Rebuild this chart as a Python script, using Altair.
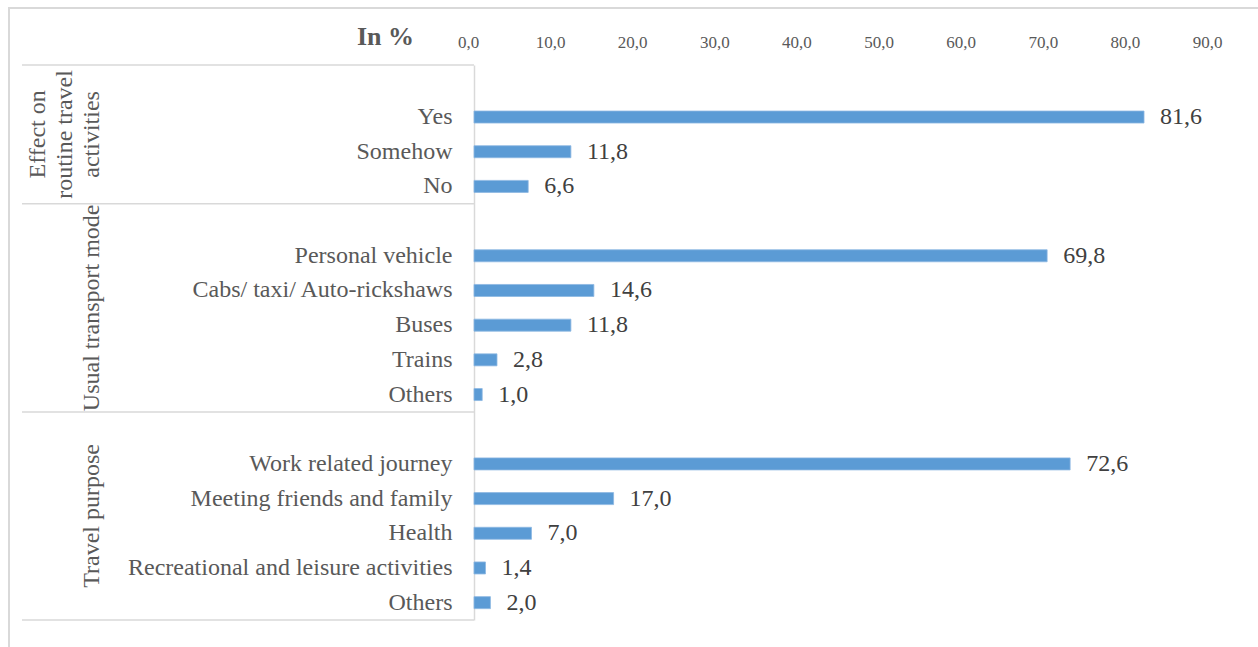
import altair as alt
import pandas as pd

# ---- data ----
group_names = ["Effect on\nroutine travel\nactivities", "Usual transport mode", "Travel purpose"]
group_ids = ["effect", "mode", "purpose"]
categories = [
    ["Yes", "Somehow", "No"],
    ["Personal vehicle", "Cabs/ taxi/ Auto-rickshaws", "Buses", "Trains", "Others"],
    ["Work related journey", "Meeting friends and family", "Health",
     "Recreational and leisure activities", "Others"],
]
values = [
    [81.6, 11.8, 6.6],
    [69.8, 14.6, 11.8, 2.8, 1.0],
    [72.6, 17.0, 7.0, 1.4, 2.0],
]
tick_values = [0, 10, 20, 30, 40, 50, 60, 70, 80, 90]
axis_title = "In %"

FONT = "Liberation Serif"
BAR = "#5B9BD5"
GRAY = "#595959"
LINE = "#D9D9D9"

# ---- build tables ----
domain = []
bar_rows = []
group_rows = []
bounds = [0]
for gid, gname, cats, vals in zip(group_ids, group_names, categories, values):
    start = len(domain)
    domain.append("|" + gid)  # empty spacer row
    for c, v in zip(cats, vals):
        key = c + "|" + gid
        domain.append(key)
        bar_rows.append({"key": key, "value": v, "group": gid})
    end = len(domain)
    bounds.append(end)
    group_rows.append({"group": gid, "name": gname, "center": (start + end) / 2})

bars_df = pd.DataFrame(bar_rows)
groups_df = pd.DataFrame(group_rows)
bounds_df = pd.DataFrame({"pos": bounds})
nrows = len(domain)

W, H = 739, 555
LEFT, TOP = 474, 65

yscale = alt.Scale(domain=domain, paddingInner=0.654, paddingOuter=0.327)
xscale = alt.Scale(domain=[0, 90], nice=False, zero=True)
label_fmt = "replace(format(datum.value, '.1f'), '.', ',')"

base = alt.Chart(bars_df)

bars = base.mark_bar(color=BAR, stroke="#8DB8E2", strokeWidth=0.8).encode(
    x=alt.X("value:Q", scale=xscale, axis=alt.Axis(
        orient="top", values=tick_values, labelExpr=label_fmt,
        domain=False, ticks=False, grid=False, labelPadding=14,
        labelFont=FONT, labelFontSize=17, labelColor=GRAY,
        labelOffset=-6, labelFlush=False,
        title=axis_title, titleFont=FONT, titleFontSize=26, titleFontWeight="bold",
        titleColor=GRAY, titleX=385 - LEFT, titleY=36 - TOP,
        titleAlign="center", titleBaseline="middle", titleAngle=0,
    )),
    y=alt.Y("key:N", sort=domain, scale=yscale, axis=alt.Axis(
        labelExpr="slice(datum.value, 0, indexof(datum.value, '|'))",
        domain=True, domainColor=LINE, domainWidth=1.5, ticks=False, grid=False,
        labelPadding=22, labelFont=FONT, labelFontSize=24, labelColor=GRAY,
        labelLimit=0, title=None,
    )),
)

bar_labels = base.transform_calculate(
    label="replace(format(datum.value, '.1f'), '.', ',')"
).mark_text(align="left", baseline="middle", dx=16, font=FONT, fontSize=24,
            color="#404040").encode(
    x=alt.X("value:Q", scale=xscale),
    y=alt.Y("key:N", sort=domain, scale=yscale, axis=None),
    text="label:N",
)

qscale = alt.Scale(domain=[0, nrows], reverse=True, nice=False, zero=False)

separators = alt.Chart(bounds_df).mark_rule(color=LINE, strokeWidth=1.5).encode(
    y=alt.Y("pos:Q", scale=qscale, axis=None),
    x=alt.value(22 - LEFT),
    x2=alt.value(0),
)

group_text_1 = alt.Chart(groups_df).transform_filter(
    alt.datum.group == "effect"
).mark_text(angle=270, align="center", baseline="middle", lineBreak="\n",
            lineHeight=27, font=FONT, fontSize=24, color=GRAY).encode(
    y=alt.Y("center:Q", scale=qscale, axis=None),
    x=alt.value(38 - LEFT),
    text="name:N",
)

group_text_2 = alt.Chart(groups_df).transform_filter(
    alt.datum.group != "effect"
).mark_text(angle=270, align="center", baseline="middle",
            font=FONT, fontSize=24, color=GRAY).encode(
    y=alt.Y("center:Q", scale=qscale, axis=None),
    x=alt.value(92 - LEFT),
    text="name:N",
)

frame = alt.Chart(pd.DataFrame({"k": [0]})).mark_rect(
    filled=False, stroke=LINE, strokeWidth=2
).encode(
    x=alt.value(9 - LEFT), x2=alt.value(1270 - LEFT),
    y=alt.value(8 - TOP), y2=alt.value(660 - TOP),
)

chart = alt.layer(
    frame, separators, group_text_1, group_text_2, bars, bar_labels
).resolve_scale(y="independent").properties(
    width=W, height=H,
    background="white",
    autosize=alt.AutoSizeParams(type="none"),
    padding={"left": LEFT, "top": TOP, "right": 1258 - LEFT - W, "bottom": 647 - TOP - H},
).configure_view(stroke=None)

chart.save("out.html", embed_options={"renderer": "svg", "actions": False})
